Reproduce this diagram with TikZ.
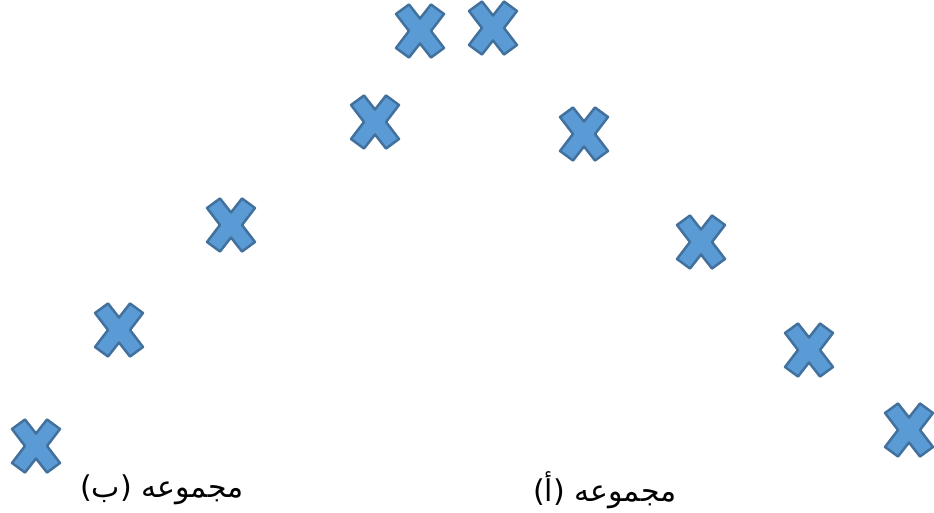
\documentclass[tikz,border=0pt]{standalone}
\usepackage{fontspec}
\usepackage{xcolor}
\usepackage{tikz}
\usetikzlibrary{positioning}
\TeXXeTstate=1
\newfontfamily\arabicfont[Script=Arabic]{DejaVu Sans}
\definecolor{crossfill}{HTML}{5B9BD5}
\definecolor{crossline}{HTML}{41719C}

\begin{document}
\begin{tikzpicture}[
    x=1pt, y=-1pt,
    crossmark/.pic={
        \draw[crossline, line width=2.5pt, fill=crossfill, line join=round]
            (-24,-17) -- (-11,-26.5) -- (0,-12.5) -- (11,-26.5) -- (24,-17)
            -- (11,0) -- (24,17) -- (11,26.5) -- (0,12.5) -- (-11,26.5)
            -- (-24,17) -- (-11,0) -- cycle;
    },
    setlabel/.style={
        font=\arabicfont\fontsize{30}{34}\selectfont, inner sep=0pt
    }
]
\useasboundingbox (0,0) rectangle (934,513);

% set (b), rising side
\pic (b1) at (36,446) {crossmark};
\pic (b2) at (119,330) {crossmark};
\pic (b3) at (231,225) {crossmark};
\pic (b4) at (375,122) {crossmark};
\pic (b5) at (420,31) {crossmark};

% set (a), falling side
\pic (a1) at (493,28) {crossmark};
\pic (a2) at (584,134) {crossmark};
\pic (a3) at (701,242) {crossmark};
\pic (a4) at (809,350) {crossmark};
\pic (a5) at (909,430) {crossmark};

% labels
\node[setlabel] (labelb) at (162,490) {\beginR مجموعه (ب)\endR};
\node[setlabel] (labela) at (605,490) {\beginR مجموعه (أ)\endR};

\end{tikzpicture}
\end{document}
